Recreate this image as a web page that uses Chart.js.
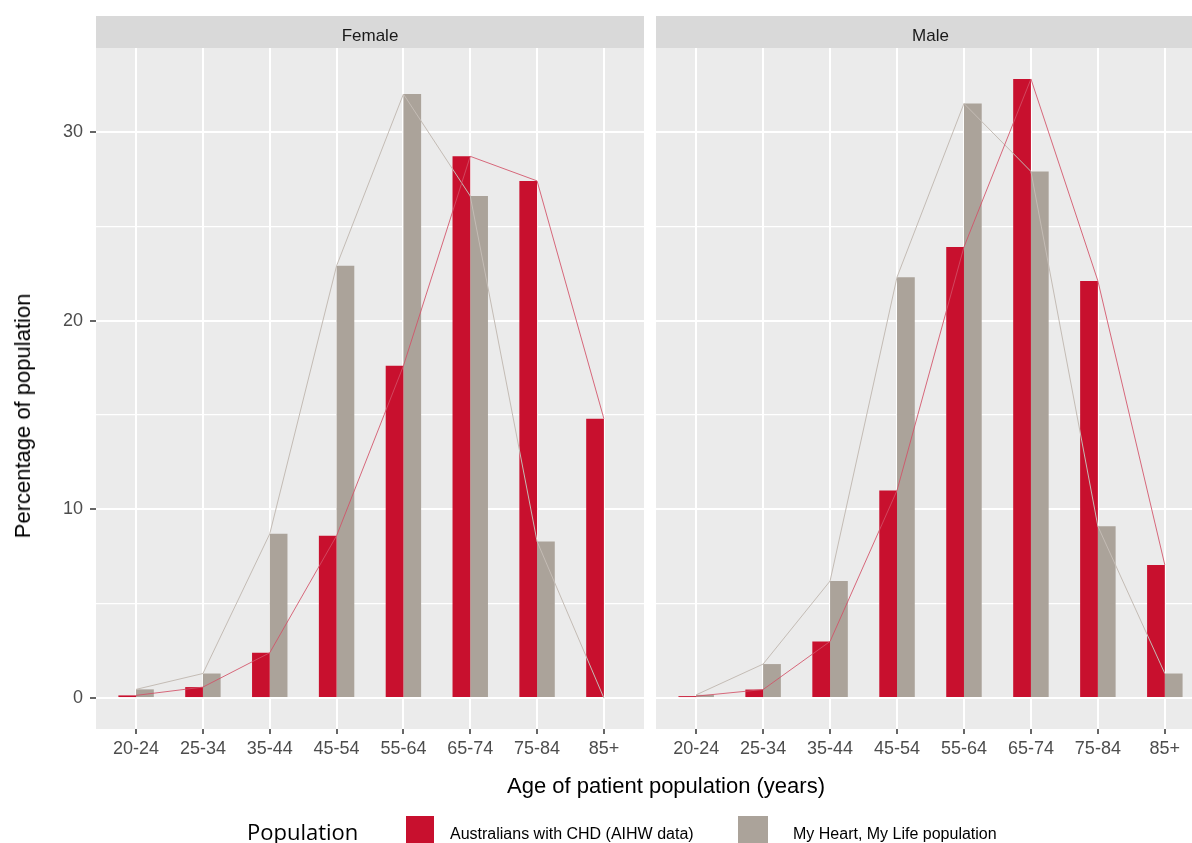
<!DOCTYPE html>
<html>
<head>
<meta charset="utf-8">
<script src="https://cdn.jsdelivr.net/npm/chart.js@4.4.1/dist/chart.umd.min.js"></script>
<style>
  body {
    margin: 0;
    width: 1192px;
    height: 843px;
    overflow: hidden;
    background: #fff;
    position: relative;
    font-family: "Liberation Sans", Arial, sans-serif;
  }
  canvas { position: absolute; top: 0; }
  #femaleChart { left: 0; }
  #maleChart { left: 650px; }
  .txt { position: absolute; white-space: nowrap; line-height: 1; color: #000; }
  .key { position: absolute; top: 816px; height: 30px; }
</style>
</head>
<body>
<canvas id="femaleChart" width="660" height="843"></canvas>
<canvas id="maleChart" width="570" height="843"></canvas>

<div class="txt" id="yTitle" style="font-size:22px; left:23px; top:416px; transform:translate(-50%,-50%) rotate(-90deg);">Percentage of population</div>
<div class="txt" style="font-size:22px; left:666px; top:775px; transform:translateX(-50%);">Age of patient population (years)</div>

<div class="txt" style="font-family:'Open Sans', sans-serif; font-size:22px; left:247px; top:820px;">Population</div>
<div class="key" style="left:406px; width:28px; background:#C8102E;"></div>
<div class="txt" style="font-size:16px; left:450px; top:826px;">Australians with CHD (AIHW data)</div>
<div class="key" style="left:738px; width:30px; background:#ABA39A;"></div>
<div class="txt" style="font-size:16px; left:793px; top:826px;">My Heart, My Life population</div>

<script>
// age bands on the x axis
const ageGroups = ["20-24", "25-34", "35-44", "45-54", "55-64", "65-74", "75-84", "85+"];

// percentage of population
const femaleAihw = [0.14, 0.58, 2.4, 8.6, 17.6, 28.7, 27.4, 14.8];
const femaleMhml = [0.46, 1.3, 8.7, 22.9, 32.0, 26.6, 8.3, 0];
const maleAihw = [0.1, 0.45, 3.0, 11.0, 23.9, 32.8, 22.1, 7.05];
const maleMhml = [0.17, 1.8, 6.2, 22.3, 31.5, 27.9, 9.1, 1.3];

const yMajorTicks = [0, 10, 20, 30];
const yMinorTicks = [5, 15, 25];

const RED = "#C8102E";
const GREY = "#ABA39A";

// ggplot-like 5% expansion of the data range
const allValues = femaleAihw.concat(femaleMhml, maleAihw, maleMhml);
const dataMax = Math.max(...allValues);
const dataMin = Math.min(...allValues);
const yMin = dataMin - (dataMax - dataMin) * 0.05;
const yMax = dataMax + (dataMax - dataMin) * 0.05;

// panel background + facet strip
const stripPlugin = {
  id: "strip",
  beforeDraw(chart, args, opts) {
    const { ctx, chartArea: a } = chart;
    ctx.save();
    ctx.fillStyle = "#D9D9D9";
    ctx.fillRect(a.left, 16, a.right - a.left, a.top - 16);
    ctx.fillStyle = "#EBEBEB";
    ctx.fillRect(a.left, a.top, a.right - a.left, a.bottom - a.top);
    ctx.fillStyle = "#1A1A1A";
    ctx.font = '17px "Liberation Sans", Arial, sans-serif';
    ctx.textAlign = "center";
    ctx.textBaseline = "alphabetic";
    ctx.fillText(opts.text, (a.left + a.right) / 2, 41);
    ctx.restore();
  },
};

function toPoints(values) {
  return values.map((v, i) => ({ x: i, y: v }));
}

function makeChart(id, title, aihw, mhml, showY, padding) {
  const ctx = document.getElementById(id).getContext("2d");
  return new Chart(ctx, {
    type: "bar",
    data: {
      datasets: [
        {
          type: "line",
          data: toPoints(aihw),
          borderColor: "rgba(210, 80, 102, 0.85)",
          borderWidth: 1,
          pointRadius: 0,
          tension: 0,
          order: 0,
        },
        {
          type: "line",
          data: toPoints(mhml),
          borderColor: "#C4BCB5",
          borderWidth: 1,
          pointRadius: 0,
          tension: 0,
          order: 0,
        },
        {
          label: "Australians with CHD (AIHW data)",
          data: toPoints(aihw),
          backgroundColor: RED,
          categoryPercentage: 0.53,
          barPercentage: 1,
          order: 1,
        },
        {
          label: "My Heart, My Life population",
          data: toPoints(mhml),
          backgroundColor: GREY,
          categoryPercentage: 0.53,
          barPercentage: 1,
          order: 1,
        },
      ],
    },
    options: {
      responsive: false,
      animation: false,
      layout: { padding: padding },
      plugins: {
        legend: { display: false },
        tooltip: { enabled: false },
        strip: { text: title },
      },
      scales: {
        x: {
          type: "linear",
          min: -0.6,
          max: ageGroups.length - 1 + 0.6,
          offset: false,
          afterBuildTicks: (s) => {
            s.ticks = ageGroups.map((g, i) => ({ value: i }));
          },
          afterFit: (s) => {
            s.height = 40;
          },
          ticks: {
            callback: (v) => ageGroups[v],
            color: "#4D4D4D",
            font: { size: 18, family: '"Liberation Sans", Arial, sans-serif' },
            padding: 4,
            maxRotation: 0,
            autoSkip: false,
          },
          grid: {
            offset: false,
            color: "#FFFFFF",
            lineWidth: 2,
            tickLength: 5,
            tickColor: "#333333",
            tickWidth: 1.5,
          },
          border: { display: false },
        },
        y: {
          min: yMin,
          max: yMax,
          afterBuildTicks: (s) => {
            s.ticks = yMajorTicks.concat(yMinorTicks).sort((a, b) => a - b).map((v) => ({ value: v }));
          },
          afterFit: (s) => {
            s.width = showY ? 96 : 0;
          },
          ticks: {
            display: showY,
            callback: (v) => (yMajorTicks.includes(v) ? String(v) : ""),
            color: "#4D4D4D",
            font: { size: 18, family: '"Liberation Sans", Arial, sans-serif' },
            padding: 7,
          },
          grid: {
            color: "#FFFFFF",
            lineWidth: (c) => (c.tick && yMajorTicks.includes(c.tick.value) ? 2 : 1.2),
            drawTicks: showY,
            tickLength: 6,
            tickWidth: 1.5,
            tickColor: (c) => (c.tick && yMajorTicks.includes(c.tick.value) ? "#333333" : "rgba(0,0,0,0)"),
          },
          border: { display: false },
        },
      },
    },
    plugins: [stripPlugin],
  });
}

const femaleChart = makeChart("femaleChart", "Female", femaleAihw, femaleMhml, true,
  { left: 0, top: 48, right: 16, bottom: 74 });
const maleChart = makeChart("maleChart", "Male", maleAihw, maleMhml, false,
  { left: 6, top: 48, right: 15, bottom: 74 });
</script>
</body>
</html>
